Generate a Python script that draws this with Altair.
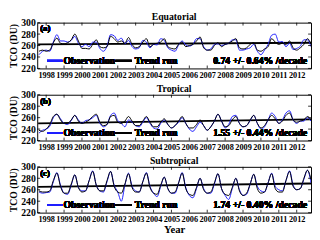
import altair as alt
import pandas as pd

# time grid (every 0.2 yr)
times = [round(1997.6 + 0.2 * i, 1) for i in range(77)]
years = list(range(1998, 2013))
yticks = [220, 240, 260, 280, 300]

obs_a = [244, 250, 252, 250, 266, 279, 268, 268, 266, 269, 276, 264, 258, 262, 258, 266, 266, 255, 250, 259,
         279, 277, 269, 273, 263, 269, 258, 254, 256, 269, 266, 256, 262, 261, 272, 269, 256, 252, 250, 261,
         268, 261, 259, 262, 272, 272, 258, 252, 254, 262, 263, 260, 262, 264, 270, 270, 252, 252, 254, 256,
         262, 250, 244, 252, 262, 278, 280, 266, 267, 258, 264, 253, 255, 259, 270, 270, 258]
run_a = [250, 252, 250, 252, 265, 273, 264, 263, 265, 270, 280, 268, 255, 255, 254, 262, 270, 258, 256, 258,
         276, 272, 266, 268, 264, 274, 262, 256, 258, 266, 272, 258, 262, 264, 266, 272, 258, 255, 254, 262,
         266, 258, 260, 262, 268, 275, 256, 252, 252, 260, 265, 258, 262, 264, 268, 272, 256, 254, 256, 262,
         265, 252, 250, 254, 258, 272, 266, 262, 264, 262, 268, 256, 252, 256, 262, 272, 262]
obs_b = [233, 238, 240, 245, 260, 266, 258, 250, 248, 255, 264, 256, 250, 255, 256, 260, 264, 250, 244, 248,
         264, 268, 255, 250, 244, 256, 252, 246, 244, 252, 260, 250, 242, 240, 250, 256, 248, 242, 246, 252,
         260, 250, 240, 236, 244, 252, 246, 238, 244, 254, 266, 254, 242, 248, 262, 264, 250, 244, 246, 255,
         264, 250, 240, 244, 256, 268, 262, 250, 256, 268, 272, 256, 250, 254, 254, 260, 254]
run_b = [238, 236, 240, 248, 262, 266, 256, 250, 250, 256, 264, 254, 250, 252, 256, 262, 266, 252, 246, 248,
         262, 264, 252, 250, 254, 262, 254, 246, 246, 254, 262, 252, 244, 244, 252, 258, 248, 242, 246, 254,
         262, 250, 242, 242, 248, 256, 246, 238, 244, 254, 266, 254, 244, 246, 256, 262, 250, 244, 246, 256,
         264, 250, 242, 246, 256, 264, 258, 250, 254, 264, 268, 256, 252, 254, 256, 262, 256]
obs_c = [256, 254, 255, 256, 274, 290, 268, 254, 252, 268, 286, 264, 258, 258, 276, 293, 268, 258, 256, 274,
         292, 268, 256, 240, 268, 289, 266, 258, 256, 274, 290, 266, 254, 248, 266, 282, 262, 254, 254, 272,
         290, 264, 250, 246, 262, 280, 262, 254, 254, 270, 288, 262, 250, 243, 262, 280, 260, 250, 252, 270,
         287, 266, 258, 256, 272, 289, 266, 260, 258, 276, 293, 268, 260, 262, 278, 294, 272]
run_c = [258, 256, 256, 258, 276, 289, 266, 254, 254, 270, 286, 264, 256, 258, 276, 292, 268, 258, 258, 276,
         292, 266, 256, 254, 270, 288, 264, 256, 256, 274, 289, 264, 254, 252, 268, 282, 262, 254, 256, 272,
         289, 262, 252, 250, 264, 280, 260, 254, 256, 272, 288, 262, 252, 250, 264, 280, 258, 250, 254, 270,
         287, 262, 254, 256, 272, 288, 262, 256, 256, 276, 292, 266, 260, 262, 280, 294, 278]

trend_x = [1997.55, 2012.8]
trend_a = [262, 265]
trend_b = [250, 257]
trend_c = [265, 271]

titles = ["Equatorial", "Tropical", "Subtropical"]
labels = ["(a)", "(b)", "(c)"]
stats = ["0.74 +/- 0.64% /decade", "1.55 +/- 0.44% /decade", "1.74 +/- 0.40% /decade"]

W, H = 281, 47
FONT = "Liberation Serif"
BLUE = "#1f1fff"

xscale = alt.Scale(domain=[1997.5, 2012.8], nice=False, zero=False)
yscale = alt.Scale(domain=[220, 300], nice=False, zero=False)


def panel(obs, run, trend, title, lab, stat, last):
    df = pd.DataFrame({"t": times, "obs": obs, "run": run})
    tdf = pd.DataFrame({"t": trend_x, "v": trend})
    xdf = pd.DataFrame({"yr": years})
    ydf = pd.DataFrame({"v": yticks})
    xaxis = alt.Axis(values=years, format="d", labelFont=FONT, labelFontWeight="bold", labelFontSize=8.5,
                     labelColor="black", tickSize=0, labelPadding=2, domain=False, grid=False,
                     labelOverlap=False, labelFlush=False,
                     title="Year" if last else None, titleFont=FONT, titleFontWeight="bold",
                     titleFontSize=11, titlePadding=1, titleColor="black")
    yaxis = alt.Axis(values=yticks, labelFont=FONT, labelFontWeight="bold", labelFontSize=10,
                     labelColor="black", tickSize=0, labelPadding=2, domain=False, grid=False,
                     labelOverlap=False, labelFlush=False, labelBaseline="middle",
                     title="TCO (DU)", titleFont=FONT, titleFontWeight="bold", titleFontSize=10,
                     titlePadding=2, titleColor="black")

    def X(f):
        return alt.X(f, scale=xscale, axis=xaxis)

    def Y(f):
        return alt.Y(f, scale=yscale, axis=yaxis)

    base = alt.Chart(df)
    trendl = alt.Chart(tdf).mark_line(color="black", strokeWidth=2, clip=True).encode(
        x=X("t:Q"), y=Y("v:Q"))
    o = base.mark_line(color=BLUE, strokeWidth=1.0, clip=True, interpolate="monotone").encode(
        x=X("t:Q"), y=Y("obs:Q"))
    r = base.mark_line(color="black", strokeWidth=1.0, clip=True, interpolate="monotone").encode(
        x=X("t:Q"), y=Y("run:Q"))
    xt1 = alt.Chart(xdf).mark_rule(color="black", strokeWidth=0.8).encode(
        x=X("yr:Q"), y=alt.value(0), y2=alt.value(3))
    xt2 = alt.Chart(xdf).mark_rule(color="black", strokeWidth=0.8).encode(
        x=X("yr:Q"), y=alt.value(H - 3), y2=alt.value(H))
    yt1 = alt.Chart(ydf).mark_rule(color="black", strokeWidth=0.8).encode(
        y=Y("v:Q"), x=alt.value(0), x2=alt.value(3))
    yt2 = alt.Chart(ydf).mark_rule(color="black", strokeWidth=0.8).encode(
        y=Y("v:Q"), x=alt.value(W - 3), x2=alt.value(W))
    ly = H - 8
    leg1 = alt.Chart(xdf).mark_rule(color=BLUE, strokeWidth=1.5).encode(
        x=alt.value(10), x2=alt.value(26), y=alt.value(ly))
    leg2 = alt.Chart(xdf).mark_rule(color="black", strokeWidth=1.5).encode(
        x=alt.value(80), x2=alt.value(97), y=alt.value(ly))
    tx = dict(font=FONT, fontWeight="bold", fontSize=10, color="black", baseline="middle")
    t1 = alt.Chart(xdf).mark_text(text="Observation", align="left", **tx).encode(
        x=alt.value(27), y=alt.value(ly))
    t2 = alt.Chart(xdf).mark_text(text="Trend run", align="left", **tx).encode(
        x=alt.value(100), y=alt.value(ly))
    t3 = alt.Chart(xdf).mark_text(text=stat, align="right", **tx).encode(
        x=alt.value(W - 4), y=alt.value(ly))
    t4 = alt.Chart(xdf).mark_text(text=lab, align="left", font=FONT, fontWeight="bold", fontSize=9,
                                  color="black", baseline="top").encode(x=alt.value(3), y=alt.value(2))
    return alt.layer(trendl, o, r, xt1, xt2, yt1, yt2, leg1, leg2, t1, t2, t3, t4).properties(
        width=W, height=H,
        title=alt.TitleParams(title, font=FONT, fontWeight="bold", fontSize=10, offset=-4, color="black"))


chart = alt.vconcat(
    panel(obs_a, run_a, trend_a, titles[0], labels[0], stats[0], False),
    panel(obs_b, run_b, trend_b, titles[1], labels[1], stats[1], False),
    panel(obs_c, run_c, trend_c, titles[2], labels[2], stats[2], True),
    spacing=4,
    padding={"left": 0, "top": 0, "right": 0, "bottom": 0},
).configure(background="white").configure_view(stroke="black", strokeWidth=1)

chart.save("out.html", embed_options={"renderer": "svg", "actions": False})
